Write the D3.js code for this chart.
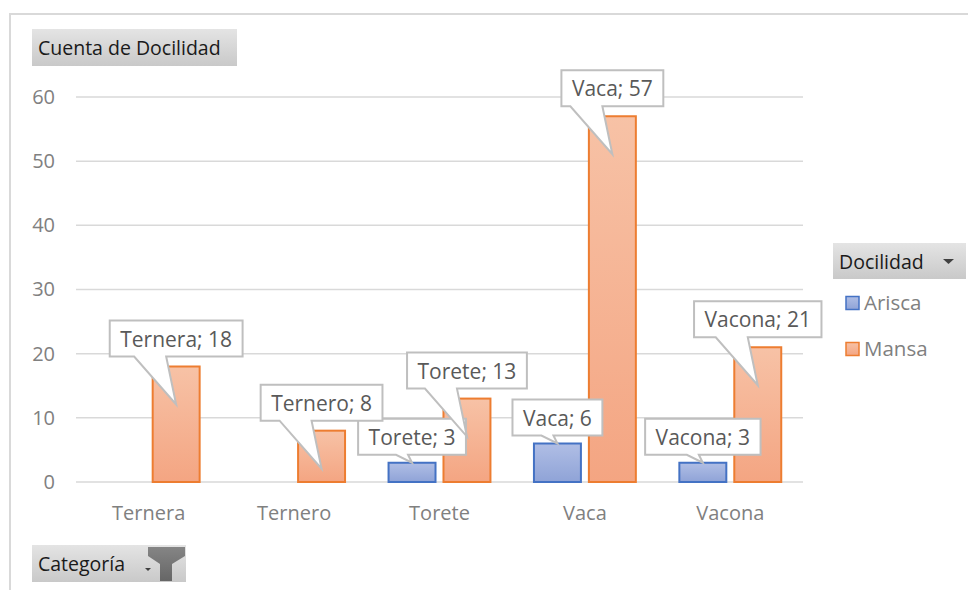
<!DOCTYPE html>
<html>
<head>
<meta charset="utf-8">
<script src="https://cdn.jsdelivr.net/npm/d3@7"></script>
<style>
  html, body { margin: 0; padding: 0; background: #fff; }
  svg { display: block; font-family: "Open Sans", "Noto Sans", sans-serif; }
</style>
</head>
<body>
<svg id="chart" width="968" height="590"></svg>
<script>
// ---- data ----
const categories = ["Ternera", "Ternero", "Torete", "Vaca", "Vacona"];
const seriesNames = ["Arisca", "Mansa"];
const arisca = [null, null, 3, 6, 3];
const mansa = [18, 8, 13, 57, 21];
const yTicks = [0, 10, 20, 30, 40, 50, 60];
const valueFieldLabel = "Cuenta de Docilidad";
const legendFieldLabel = "Docilidad";
const axisFieldLabel = "Categoría";

const seriesValues = { Arisca: arisca, Mansa: mansa };
const colors = {
  Arisca: { stroke: "#4472c4", top: "#b0bee5", bottom: "#8fa3d7" },
  Mansa:  { stroke: "#ed7d31", top: "#f7c2a6", bottom: "#f4a582" }
};

const svg = d3.select("#chart");
const W = 968, H = 590;
const plot = { left: 76, right: 803, top: 97, bottom: 482 };

const defs = svg.append("defs");
seriesNames.forEach(s => {
  const g = defs.append("linearGradient").attr("id", "grad-" + s)
    .attr("x1", 0).attr("y1", 0).attr("x2", 0).attr("y2", 1);
  g.append("stop").attr("offset", "0%").attr("stop-color", colors[s].top);
  g.append("stop").attr("offset", "100%").attr("stop-color", colors[s].bottom);
});
const btn = defs.append("linearGradient").attr("id", "btnGrad")
  .attr("x1", 0).attr("y1", 0).attr("x2", 0).attr("y2", 1);
btn.append("stop").attr("offset", "0%").attr("stop-color", "#e4e4e4");
btn.append("stop").attr("offset", "100%").attr("stop-color", "#c9c9c9");
const fun = defs.append("linearGradient").attr("id", "funGrad")
  .attr("x1", 0).attr("y1", 0).attr("x2", 0).attr("y2", 1);
fun.append("stop").attr("offset", "0%").attr("stop-color", "#858585");
fun.append("stop").attr("offset", "100%").attr("stop-color", "#666666");

svg.append("rect").attr("width", W).attr("height", H).attr("fill", "#fff");

// outer chart frame
svg.append("path").attr("d", `M10,${H} V14 H${W}`)
  .attr("fill", "none").attr("stroke", "#d9d9d9").attr("stroke-width", 2);

// scales
const y = d3.scaleLinear().domain([0, 60]).range([plot.bottom, plot.top]);
const x = d3.scaleBand().domain(categories).range([plot.left, plot.right]).padding(0);
const xs = d3.scaleBand().domain(seriesNames).range([0, x.bandwidth()])
  .paddingInner(0.145).paddingOuter(0.396);

// gridlines
svg.append("g").selectAll("line").data(yTicks).join("line")
  .attr("x1", plot.left).attr("x2", plot.right)
  .attr("y1", d => y(d)).attr("y2", d => y(d))
  .attr("stroke", "#d9d9d9").attr("stroke-width", 1.5);

// y axis labels
const yAxis = svg.append("g").attr("transform", "translate(55,0)")
  .call(d3.axisLeft(y).tickValues(yTicks).tickSize(0).tickPadding(0));
yAxis.select(".domain").remove();
yAxis.selectAll("text").attr("font-size", 20).attr("fill", "#808080")
  .attr("font-family", "Open Sans");

// x axis labels
const xAxis = svg.append("g").attr("transform", `translate(0,${plot.bottom})`)
  .call(d3.axisBottom(x).tickSize(0).tickPadding(24));
xAxis.select(".domain").remove();
xAxis.selectAll("text").attr("font-size", 20).attr("fill", "#808080")
  .attr("font-family", "Open Sans");

// bars
const barData = [];
seriesNames.forEach(s => {
  seriesValues[s].forEach((v, i) => {
    if (v !== null) barData.push({ s, cat: categories[i], v });
  });
});
svg.append("g").selectAll("rect").data(barData).join("rect")
  .attr("x", d => x(d.cat) + xs(d.s))
  .attr("y", d => y(d.v))
  .attr("width", xs.bandwidth())
  .attr("height", d => y(0) - y(d.v))
  .attr("fill", d => `url(#grad-${d.s})`)
  .attr("stroke", d => colors[d.s].stroke)
  .attr("stroke-width", 2);

// callouts
const calloutLayer = svg.append("g");
barData.forEach(d => {
  const cx = x(d.cat) + xs(d.s) + xs.bandwidth() / 2;
  const barH = y(0) - y(d.v);
  const tall = barH > 45;
  const tipY = y(d.v) + (tall ? 38 : 0);
  const g = calloutLayer.append("g");
  const label = `${d.cat}; ${d.v}`;
  const t = g.append("text").text(label)
    .attr("font-size", 21).attr("fill", "#595959").attr("font-family", "Open Sans")
    .attr("text-anchor", "middle");
  const tw = t.node().getComputedTextLength();
  const bw = tw + 21, bh = 36;
  const bottom = tall ? tipY - 48 : tipY - 8;
  const top = bottom - bh;
  const x0 = cx - bw / 2, x1 = cx + bw / 2;
  const bL = tall ? cx - 42 : cx - 16;
  const bR = tall ? cx - 10 : cx - 4;
  g.insert("path", "text")
    .attr("d", `M${x0},${top} H${x1} V${bottom} H${bR} L${cx},${tipY} L${bL},${bottom} H${x0} Z`)
    .attr("fill", "#fff").attr("stroke", "#bfbfbf").attr("stroke-width", 2)
    .attr("stroke-linejoin", "miter");
  t.attr("x", cx).attr("y", top + 26);
});

// field buttons
function fieldButton(x0, y0, w, h, label, fs) {
  const g = svg.append("g");
  g.append("rect").attr("x", x0).attr("y", y0).attr("width", w).attr("height", h)
    .attr("fill", "url(#btnGrad)");
  g.append("text").attr("x", x0 + 6).attr("y", y0 + 26).text(label)
    .attr("font-size", fs).attr("fill", "#1a1a1a").attr("font-family", "Open Sans");
  return g;
}
fieldButton(32, 29, 205, 37, valueFieldLabel, 19.5);

const lg = fieldButton(833, 243, 133, 36, legendFieldLabel, 19.5);
lg.append("path").attr("d", "M943,259 H954 L948.5,264 Z").attr("fill", "#404040");

const cg = fieldButton(32, 545, 154, 37, axisFieldLabel, 19.5);
cg.append("path").attr("d", "M145,568 H151 L148,571 Z").attr("fill", "#404040");
cg.append("path")
  .attr("d", "M148,547 H185 V556 L172,564 V581 H160 V564 L148,556 Z")
  .attr("fill", "url(#funGrad)");

// legend items
const legendY = { Arisca: 303, Mansa: 349 };
const legend = svg.append("g");
seriesNames.forEach(s => {
  legend.append("rect").attr("x", 846).attr("y", legendY[s] - 6.5)
    .attr("width", 13).attr("height", 13)
    .attr("fill", `url(#grad-${s})`).attr("stroke", colors[s].stroke).attr("stroke-width", 1.5);
  legend.append("text").attr("x", 864).attr("y", legendY[s] + 7).text(s)
    .attr("font-size", 20.5).attr("fill", "#808080").attr("font-family", "Open Sans");
});
</script>
</body>
</html>
